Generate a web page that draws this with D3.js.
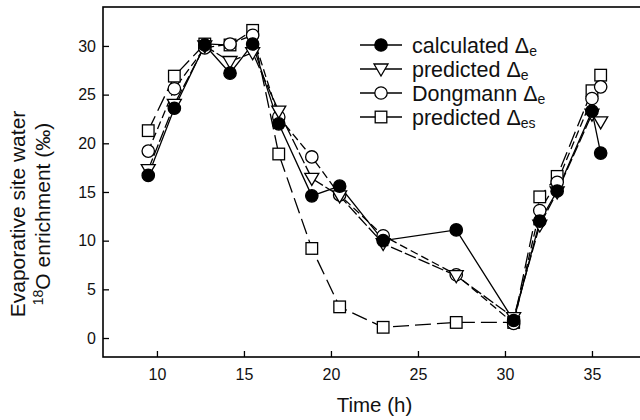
<!DOCTYPE html>
<html>
<head>
<meta charset="utf-8">
<script src="https://cdn.jsdelivr.net/npm/d3@7"></script>
<style>
  body { margin: 0; background: #fff; }
  svg { font-family: "Liberation Sans", Arial, sans-serif; }
</style>
</head>
<body>
<div id="chart"></div>
<script>
// time of sampling (h)
const times = [9.5, 11.0, 12.75, 14.2, 15.5, 17.0, 18.9, 20.5, 23.0, 27.2, 30.5, 32.0, 33.0, 35.0, 35.5];
// 18O enrichment (permil) for each series
const calculatedDe = [16.7, 23.6, 30.1, 27.2, 30.2, 22.0, 14.6, 15.6, 10.0, 11.1, 1.8, 12.0, 15.1, 23.3, 19.0];
const predictedDe  = [17.3, 24.0, 30.0, 28.4, 29.3, 23.3, 16.4, 14.6, 9.7, 6.4, 2.1, 11.6, 15.0, 23.0, 22.2];
const dongmannDe   = [19.2, 25.6, 29.8, 30.2, 31.1, 22.7, 18.6, 14.7, 10.5, 6.5, 1.5, 13.1, 16.0, 24.6, 25.8];
const predictedDes = [21.3, 26.9, 30.2, 30.1, 31.6, 18.9, 9.2, 3.2, 1.1, 1.6, 1.6, 14.5, 16.6, 25.4, 27.0];
const xTicks = [10, 15, 20, 25, 30, 35];
const yTicks = [0, 5, 10, 15, 20, 25, 30];

const series = [
  {name: "calculated ", sub: "e", values: calculatedDe, marker: "filled", dash: null},
  {name: "predicted ", sub: "e", values: predictedDe, marker: "triangle", dash: "12,3"},
  {name: "Dongmann ", sub: "e", values: dongmannDe, marker: "circle", dash: "8,4"},
  {name: "predicted ", sub: "es", values: predictedDes, marker: "square", dash: "16,6"}
];

const margin = {top: 7, right: 0, bottom: 63, left: 103};
const W = 640, H = 420;
const width = W - margin.left - margin.right;
const height = H - margin.top - margin.bottom;

const svg = d3.select("#chart").append("svg")
  .attr("width", W).attr("height", H);
const g = svg.append("g").attr("transform", `translate(${margin.left},${margin.top})`);

const x = d3.scaleLinear().domain([6.9, 37.76]).range([0, width]);
const y = d3.scaleLinear().domain([-1.95, 34.0]).range([height, 0]);

// frame (right side falls just outside the picture)
g.append("rect").attr("x", 0).attr("y", 0).attr("width", width + 2).attr("height", height)
  .attr("fill", "none").attr("stroke", "#000").attr("stroke-width", 1.6);

const xAxis = g.append("g").attr("transform", `translate(0,${height})`)
  .call(d3.axisBottom(x).tickValues(xTicks).tickSizeInner(-6).tickSizeOuter(0).tickPadding(12));
const yAxis = g.append("g")
  .call(d3.axisLeft(y).tickValues(yTicks).tickSizeInner(-6).tickSizeOuter(0).tickPadding(7));
[xAxis, yAxis].forEach(a => {
  a.select(".domain").remove();
  a.selectAll("line").attr("stroke-width", 1.3);
  a.selectAll("text").attr("font-size", 16).attr("fill", "#111").attr("font-family", "Liberation Sans, Arial, sans-serif");
});

// axis titles
svg.append("text").attr("x", margin.left + x(22.5)).attr("y", 412)
  .attr("text-anchor", "middle").attr("font-size", 20.5).attr("fill", "#111").text("Time (h)");
const yl = svg.append("g").attr("transform", "translate(0,214) rotate(-90)");
yl.append("text").attr("x", 0).attr("y", 25).attr("text-anchor", "middle")
  .attr("font-size", 21).attr("fill", "#111").text("Evaporative site water");
const yl2 = yl.append("text").attr("x", 0).attr("y", 50).attr("text-anchor", "middle")
  .attr("font-size", 21).attr("fill", "#111");
yl2.append("tspan").attr("font-size", 14).attr("dy", -7).text("18");
yl2.append("tspan").attr("dy", 7).text("O enrichment (‰)");

// markers
function drawMarker(sel, type, cx, cy) {
  if (type === "filled" || type === "circle") {
    sel.append("circle").attr("cx", cx).attr("cy", cy).attr("r", 6.2)
      .attr("fill", type === "filled" ? "#000" : "#fff").attr("stroke", "#000").attr("stroke-width", 1.3);
  } else if (type === "triangle") {
    sel.append("path").attr("d", `M${cx - 7},${cy - 5}L${cx + 7},${cy - 5}L${cx},${cy + 7}Z`)
      .attr("fill", "#fff").attr("stroke", "#000").attr("stroke-width", 1.3);
  } else {
    sel.append("rect").attr("x", cx - 5.8).attr("y", cy - 5.8).attr("width", 11.6).attr("height", 11.6)
      .attr("fill", "#fff").attr("stroke", "#000").attr("stroke-width", 1.3);
  }
}

const line = d3.line().x(d => x(d[0])).y(d => y(d[1]));
series.forEach(s => {
  g.append("path").datum(times.map((t, i) => [t, s.values[i]]))
    .attr("d", line).attr("fill", "none").attr("stroke", "#000").attr("stroke-width", 1.3)
    .attr("stroke-dasharray", s.dash);
});
series.slice().reverse().forEach(s => {
  const mg = g.append("g");
  times.forEach((t, i) => drawMarker(mg, s.marker, x(t), y(s.values[i])));
});

// legend
const lg = svg.append("g").attr("transform", "translate(360,45)");
series.forEach((s, i) => {
  const row = lg.append("g").attr("transform", `translate(0,${i * 24})`);
  row.append("line").attr("x1", 0).attr("x2", 42).attr("y1", 0).attr("y2", 0)
    .attr("stroke", "#000").attr("stroke-width", 1.5);
  drawMarker(row, s.marker, 21, 0);
  const t = row.append("text").attr("x", 52).attr("y", 7.5).attr("font-size", 21.5).attr("fill", "#111");
  t.append("tspan").text(s.name + "Δ");
  t.append("tspan").attr("font-size", 14).attr("dy", 3).text(s.sub);
});
</script>
</body>
</html>
